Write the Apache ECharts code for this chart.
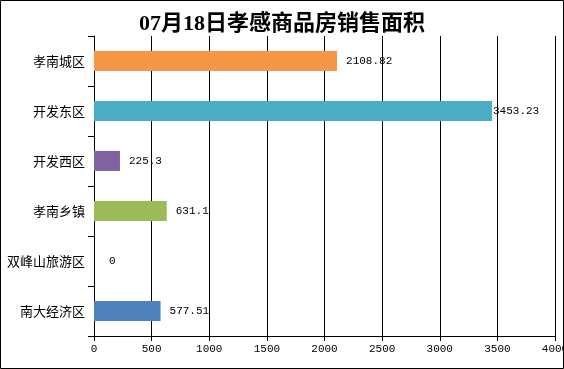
<!DOCTYPE html>
<html><head><meta charset="utf-8">
<script src="https://cdn.jsdelivr.net/npm/echarts@6/dist/echarts.min.js"></script>
<style>html,body{margin:0;padding:0;background:#fff}#c{width:564px;height:369px}</style>
</head><body><div id="c"></div>
<script>
const categories = ['孝南城区','开发东区','开发西区','孝南乡镇','双峰山旅游区','南大经济区'];
const values = [2108.82, 3453.23, 225.3, 631.1, 0, 577.51];
const labels = ['2108.82','3453.23','225.3','631.1','0','577.51'];
const colors = ['#F79646','#4BACC6','#8064A2','#9BBB59','#4F81BD','#4F81BD'];
const xTicks = [0,500,1000,1500,2000,2500,3000,3500,4000];

const chart = echarts.init(document.getElementById('c'), null, {renderer:'canvas'});
chart.setOption({
  backgroundColor:'#fff',
  animation:false,
  title:{text:'07月18日孝感商品房销售面积', left:'center', top:8,
    textStyle:{fontFamily:'"Liberation Serif","Noto Sans CJK SC",serif', fontWeight:'bold', fontSize:22, color:'#000'}},
  grid:{left:94, right:9, top:36, bottom:33, containLabel:false, outerBoundsMode:'none'},
  xAxis:{type:'value', min:0, max:4000, interval:500,
    axisLine:{show:true, lineStyle:{color:'#000', width:1}},
    axisTick:{show:true, length:5, lineStyle:{color:'#000'}},
    splitLine:{show:true, lineStyle:{color:'#000', width:1}},
    axisLabel:{color:'#000', fontFamily:'"Liberation Mono",monospace', fontSize:11, margin:8,
      formatter:(v)=> xTicks.includes(v) ? String(v) : ''}},
  yAxis:{type:'category', inverse:true, data:categories,
    axisLine:{show:true, lineStyle:{color:'#000', width:1}},
    axisTick:{show:true, length:6, lineStyle:{color:'#000'}},
    axisLabel:{color:'#000', fontFamily:'"Noto Sans CJK SC",sans-serif', fontSize:13, margin:9}},
  series:[{type:'bar', barWidth:20,
    data: values.map((v,i)=>({value:v, itemStyle:{color:colors[i]},
      label:{distance: i===1 ? 1 : (i===4 ? 15 : 9)}})),
    label:{show:true, position:'right', color:'#000', fontFamily:'"Liberation Mono",monospace', fontSize:11,
      formatter:(p)=>labels[p.dataIndex]}}],
  graphic:[{type:'rect', shape:{x:0.5,y:0.5,width:563,height:368}, style:{fill:null, stroke:'#000', lineWidth:1}, silent:true}]
});
</script></body></html>
